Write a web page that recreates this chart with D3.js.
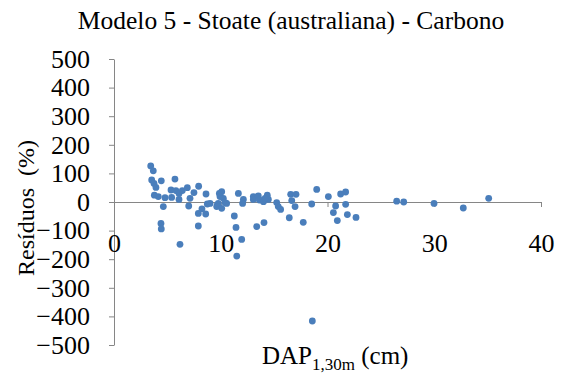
<!DOCTYPE html>
<html>
<head>
<meta charset="utf-8">
<script src="https://cdnjs.cloudflare.com/ajax/libs/d3/7.8.5/d3.min.js"></script>
<style>
  body { margin: 0; background: #fff; }
  svg { font-family: "Liberation Serif", "Times New Roman", serif; }
</style>
</head>
<body>
<script>
// DAP (cm) and residuos (%)
var dap = [3.44, 3.68, 3.53, 3.75, 3.93, 3.78, 4.15, 4.43, 4.62, 4.4, 4.43, 4.78,
    5.4, 5.34, 5.71, 5.8, 6.09, 6.09, 6.4, 6.87, 6.18, 7.0, 7.12, 7.49, 7.93,
    7.9, 8.24, 8.62, 8.59, 8.74, 7.9, 9.68, 9.87,
    9.0, 10.09, 9.93, 10.24, 9.77, 9.62, 10.4, 10.55, 10.09, 11.27, 11.43, 11.96,
    11.5, 11.65, 12.12, 12.05, 13.05, 13.05, 13.52, 13.62, 14.0, 14.36, 14.46, 14.15,
    13.37, 14.05, 15.24, 15.39, 15.61, 16.55, 17.05, 16.65, 16.96, 16.42, 17.73,
    18.52, 18.99, 20.08,
    20.76, 20.55, 20.92, 21.23, 21.7, 21.7, 21.86, 22.67, 26.48, 27.14, 29.98,
    32.72, 35.1, 18.58];
var residuos = [126, 109, 77, 65, 51, 24, 19, 74, -16, -75, -94, 15,
    16, 42, 80, 40, 30, 9, 40, 50, -148, -14, 13, 33, 55,
    -40, -24, 28, -42, -7, -84, -10, 30,
    -5, 36, 19, 13, -5, -16, -2, -5, -22, -49, -89, -131,
    -189, 30, 9, -5, 19, 9, 21, 7, 1, 24, 9, 13,
    -86, -72, -2, -16, -26, 27, 27, 5, -16, -55, -71,
    -7, 44, 19,
    -14, -37, -65, 28, 35, -8, -44, -54, 3, 0, -5,
    -21, 13, -416];
var xTicks = [0, 10, 20, 30, 40];
var yTicks = [-500, -400, -300, -200, -100, 0, 100, 200, 300, 400, 500];

var W = 565, H = 376;
var axisColor = "#868686";
var dotColor = "#4a7ebb";

var svg = d3.select("body").append("svg")
    .attr("width", W)
    .attr("height", H);

var x = d3.scaleLinear().domain([0, 40]).range([114, 541]);
var y = d3.scaleLinear().domain([-500, 500]).range([345, 59]);

// title
svg.append("text")
    .attr("x", 291)
    .attr("y", 29)
    .attr("text-anchor", "middle")
    .attr("font-size", 25.5)
    .text("Modelo 5 - Stoate (australiana) - Carbono");

// y axis
var yAxis = svg.append("g")
    .attr("transform", "translate(" + x(0) + ",0)")
    .attr("font-family", null)
    .call(d3.axisLeft(y).tickValues(yTicks).tickSize(5).tickSizeOuter(0).tickPadding(19));
yAxis.attr("font-family", "Liberation Serif, serif");
yAxis.select(".domain").attr("stroke", axisColor);
yAxis.selectAll(".tick line").attr("stroke", axisColor);
yAxis.selectAll(".tick text")
    .attr("font-size", 26)
    .attr("fill", "#000");

// x axis through zero
var xAxis = svg.append("g")
    .attr("transform", "translate(0," + y(0) + ")")
    .call(d3.axisBottom(x).tickValues(xTicks).tickSize(5).tickSizeOuter(0));
xAxis.attr("font-family", "Liberation Serif, serif");
xAxis.select(".domain").attr("stroke", axisColor);
xAxis.selectAll(".tick line").attr("stroke", axisColor);
xAxis.selectAll(".tick text")
    .attr("font-size", 26)
    .attr("fill", "#000")
    .attr("y", 41)
    .attr("dy", "0.33em");

// points
svg.append("g")
    .selectAll("circle")
    .data(dap)
    .enter().append("circle")
    .attr("cx", function(d) { return x(d); })
    .attr("cy", function(d, i) { return y(residuos[i]); })
    .attr("r", 3.4)
    .attr("fill", dotColor);

// axis titles
svg.append("text")
    .attr("transform", "translate(34,208) rotate(-90)")
    .attr("text-anchor", "middle")
    .attr("font-size", 24)
    .style("white-space", "pre")
    .text("Resíduos  (%)");

var xl = svg.append("text")
    .attr("x", 262)
    .attr("y", 364)
    .attr("font-size", 25);
xl.append("tspan").text("DAP");
xl.append("tspan").attr("font-size", 17).attr("dy", 6).text("1,30m");
xl.append("tspan").attr("dy", -6).text(" (cm)");
</script>
</body>
</html>
